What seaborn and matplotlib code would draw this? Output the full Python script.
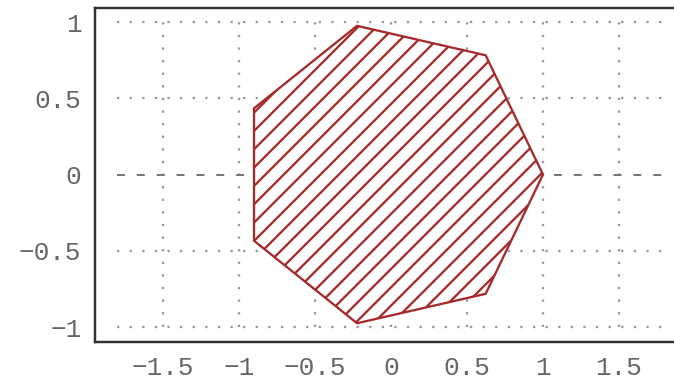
import matplotlib
matplotlib.use("Agg")
import matplotlib.pyplot as plt
import seaborn as sns

# heptagon vertices
poly_x = [1.0, 0.623, -0.223, -0.901, -0.901, -0.223, 0.623]
poly_y = [0.0, 0.782, 0.975, 0.434, -0.434, -0.975, -0.782]

xticks = [-1.5, -1, -0.5, 0, 0.5, 1, 1.5]
xticklabels = ["\u22121.5", "\u22121", "\u22120.5", "0", "0.5", "1", "1.5"]
yticks = [-1, -0.5, 0, 0.5, 1]
yticklabels = ["\u22121", "\u22120.5", "0", "0.5", "1"]

sns.set_style("white")
plt.rcParams['font.family'] = ['Liberation Mono', 'DejaVu Sans Mono']
plt.rcParams['hatch.linewidth'] = 1.5

dpi = 110
fig = plt.figure(figsize=(674 / dpi, 381 / dpi), dpi=dpi)
ax = fig.add_axes([95 / 674, 39 / 381, 1 - 95 / 674, 334 / 381])

grid_col = '#999999'
# dotted grid, limited span like the original
for yv in yticks:
    if yv == 0:
        continue
    ax.hlines(yv, -1.8, 1.8, colors=grid_col, linestyles=(0, (1, 4.5)), lw=1.5, zorder=1)
for xv in xticks:
    ax.vlines(xv, -1, 1, colors=grid_col, linestyles=(0, (1, 4.5)), lw=1.5, zorder=1)
ax.hlines(0, -1.8, 1.8, colors='#777777', linestyles=(0, (4, 6)), lw=1.3, zorder=1)

# hatched polygon
ax.fill(poly_x, poly_y, facecolor='white', edgecolor='#a52a2a', hatch='//', lw=1.5, zorder=3)

ax.set_xlim(-1.947, 1.862)
ax.set_ylim(-1.098, 1.092)
ax.set_xticks(xticks)
ax.set_xticklabels(xticklabels)
ax.set_yticks(yticks)
ax.set_yticklabels(yticklabels)
ax.tick_params(length=0, labelsize=17, colors='#666666', pad=9)

for side in ['left', 'top', 'bottom']:
    ax.spines[side].set_color('#333333')
    ax.spines[side].set_linewidth(1.6)
ax.spines['right'].set_visible(False)

fig.savefig('out.png', dpi=dpi)
